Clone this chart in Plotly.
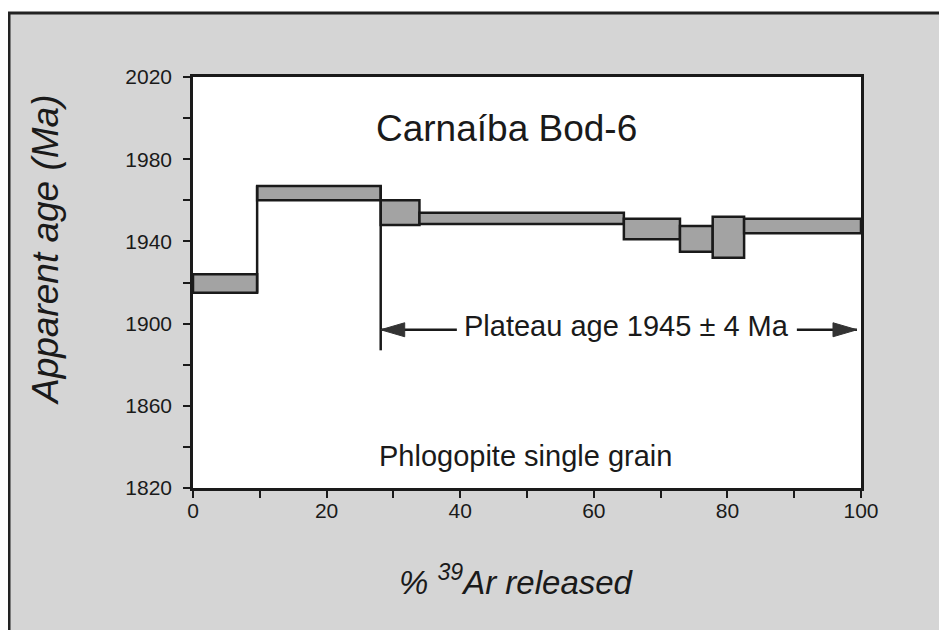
import plotly.graph_objects as go

# step boundaries (% 39Ar released, cumulative) and apparent ages (Ma)
cum_pct = [0, 9.6, 28.1, 33.9, 64.5, 72.9, 77.8, 82.5, 100]
age_low = [1915, 1960, 1948, 1948.5, 1941, 1935, 1932, 1944]
age_high = [1924, 1967, 1960, 1954, 1951, 1947.5, 1952, 1951]

plateau_start = 28.1
plateau_bottom = 1887
arrow_age = 1897
arrow_left_end = 39.5
arrow_right_start = 90.4
arrow_right_end = 99.4

x_ticks = [0, 20, 40, 60, 80, 100]
y_ticks = [1820, 1860, 1900, 1940, 1980, 2020]

FONT = "Liberation Sans, Arial, Helvetica, sans-serif"
W, H = 947, 630
OFF = 8  # page body margin
L, R, T, B = 193 - OFF, 861 - OFF, 77 - OFF, 488 - OFF

centers = [(a + b) / 2 for a, b in zip(cum_pct[:-1], cum_pct[1:])]
widths = [b - a for a, b in zip(cum_pct[:-1], cum_pct[1:])]
heights = [hi - lo for lo, hi in zip(age_low, age_high)]

fig = go.Figure()
fig.add_trace(go.Bar(
    x=centers, y=heights, base=age_low, width=widths,
    marker=dict(color="#a3a3a3", line=dict(color="#1a1a1a", width=2.5)),
    hoverinfo="skip", showlegend=False,
))

# connector between step 1 and step 2, and the plateau start marker
fig.add_trace(go.Scatter(
    x=[cum_pct[1], cum_pct[1]], y=[age_low[0], age_high[1]],
    mode="lines", line=dict(color="#1a1a1a", width=2.5),
    hoverinfo="skip", showlegend=False,
))
fig.add_trace(go.Scatter(
    x=[plateau_start, plateau_start], y=[plateau_bottom, age_high[1]],
    mode="lines", line=dict(color="#1a1a1a", width=2.5),
    hoverinfo="skip", showlegend=False,
))


def px_x(p):
    # screen pixel -> paper x
    return (p - OFF - L) / (R - L)


def px_y(p):
    return (B - (p - OFF)) / (B - T)


shapes = [
    # grey card behind the figure
    dict(type="rect", xref="paper", yref="paper", layer="below",
         x0=px_x(9), x1=px_x(975), y0=px_y(13), y1=px_y(680),
         fillcolor="#d5d5d5", line=dict(color="#222222", width=3)),
    dict(type="rect", xref="x domain", yref="y domain", layer="below",
         x0=0, x1=1, y0=0, y1=1, fillcolor="white", line=dict(width=0)),
    # plateau arrows
    dict(type="line", xref="x", yref="y", x0=plateau_start, x1=arrow_left_end,
         y0=arrow_age, y1=arrow_age, line=dict(color="#1a1a1a", width=2.5)),
    dict(type="line", xref="x", yref="y", x0=arrow_right_start, x1=arrow_right_end,
         y0=arrow_age, y1=arrow_age, line=dict(color="#1a1a1a", width=2.5)),
    dict(type="path", xref="x", yref="y", xsizemode="pixel", ysizemode="pixel",
         xanchor=plateau_start, yanchor=arrow_age, path="M0,0 L24,7 L24,-7 Z",
         fillcolor="#333333", line=dict(color="#333333", width=1)),
    dict(type="path", xref="x", yref="y", xsizemode="pixel", ysizemode="pixel",
         xanchor=arrow_right_end, yanchor=arrow_age, path="M0,0 L-24,7 L-24,-7 Z",
         fillcolor="#333333", line=dict(color="#333333", width=1)),
]

annotations = [
    dict(text="Carnaíba Bod-6", x=46.9, y=1995, xref="x", yref="y",
         showarrow=False, font=dict(size=37, color="#1a1a1a")),
    dict(text="Plateau age 1945 ± 4 Ma", x=64.9, y=arrow_age + 2, xref="x", yref="y",
         showarrow=False, font=dict(size=29, color="#1a1a1a")),
    dict(text="Phlogopite single grain", x=49.8, y=1835.5, xref="x", yref="y",
         showarrow=False, font=dict(size=29, color="#1a1a1a")),
    dict(text="<i>Apparent age (Ma)</i>", x=px_x(45), y=px_y(250), xref="paper", yref="paper",
         xanchor="center", yanchor="middle",
         showarrow=False, textangle=-90, font=dict(size=37, color="#1a1a1a")),
    dict(text="<i>% <sup>39</sup>Ar released</i>", x=px_x(516), y=px_y(580),
         xref="paper", yref="paper", xanchor="center", yanchor="middle",
         showarrow=False, font=dict(size=33, color="#1a1a1a")),
]

axis_common = dict(
    showline=True, linecolor="#1a1a1a", linewidth=2.5, mirror=True,
    showgrid=False, zeroline=False, ticks="outside", ticklen=7, tickwidth=2,
    tickcolor="#1a1a1a", tickfont=dict(size=21, color="#1a1a1a"),
)

fig.update_layout(
    width=W, height=H,
    margin=dict(l=L, r=W - R, t=T, b=H - B),
    paper_bgcolor="white", plot_bgcolor="white",
    font=dict(family=FONT, color="#1a1a1a"),
    xaxis=dict(range=[0, 100], tickvals=x_ticks, ticklabelstandoff=-5,
               minor=dict(dtick=10, ticks="outside", ticklen=7, tickwidth=2,
                          tickcolor="#1a1a1a", showgrid=False),
               **axis_common),
    yaxis=dict(range=[1820, 2020], tickvals=y_ticks, ticklabelstandoff=7,
               minor=dict(dtick=20, ticks="outside", ticklen=7, tickwidth=2,
                          tickcolor="#1a1a1a", showgrid=False),
               **axis_common),
    shapes=shapes,
    annotations=annotations,
    showlegend=False,
)

fig.write_html("out.html")
